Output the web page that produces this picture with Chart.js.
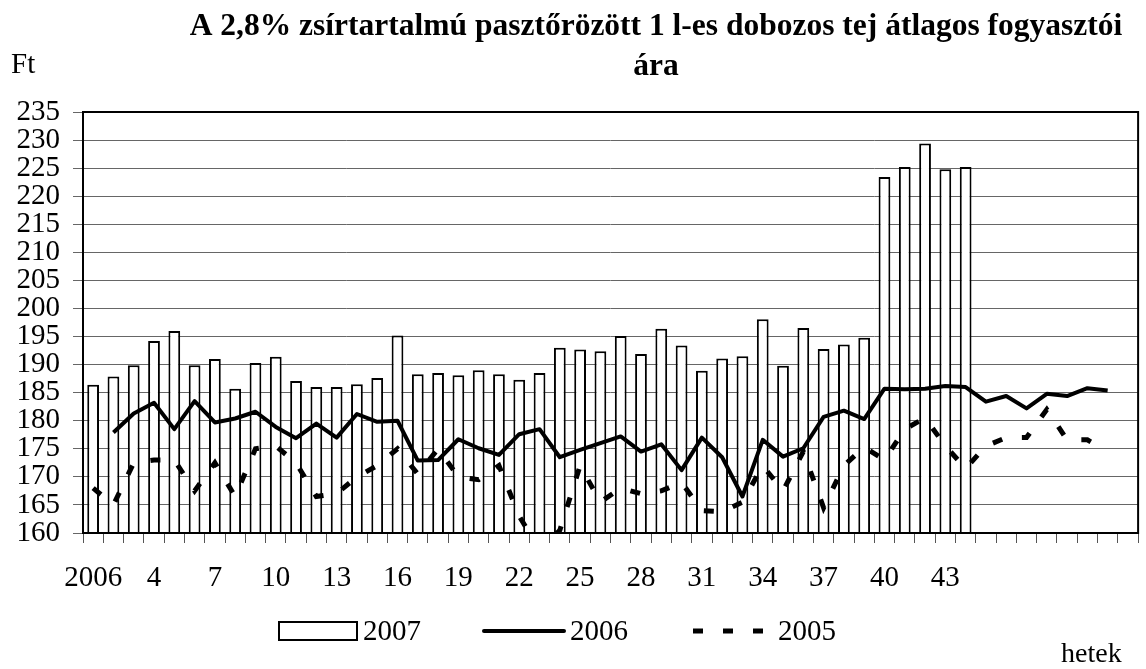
<!DOCTYPE html>
<html>
<head>
<meta charset="utf-8">
<script src="https://cdn.jsdelivr.net/npm/chart.js@4"></script>
<style>
    body { margin: 0; background: #fff; }
    #wrap { width: 1146px; height: 669px; position: relative; }
</style>
</head>
<body>
<div id="wrap"><canvas id="chart"></canvas></div>
<script>
// Adatok (hetek szerint)
const weekLabels = ['2006', '2', '3', '4', '5', '6', '7', '8', '9', '10',
    '11', '12', '13', '14', '15', '16', '17', '18', '19', '20',
    '21', '22', '23', '24', '25', '26', '27', '28', '29', '30',
    '31', '32', '33', '34', '35', '36', '37', '38', '39', '40',
    '41', '42', '43', '44', '', '', '', '', '', '', '', ''];

const price2007 = [186.4, 187.9, 189.9, 194.2, 196.0, 189.9, 191.0, 185.7, 190.3, 191.4,
    187.1, 186.0, 186.0, 186.5, 187.6, 195.2, 188.3, 188.5, 188.1, 189.0,
    188.3, 187.3, 188.5, 193.0, 192.7, 192.4, 195.1, 191.9, 196.4, 193.4,
    188.9, 191.1, 191.5, 198.1, 189.8, 196.5, 192.8, 193.6, 194.8, 223.4,
    225.2, 229.4, 224.8, 225.2, null, null, null, null, null, null, null, null];

const price2006 = [null, 177.9, 181.3, 183.2, 178.5, 183.5, 179.7, 180.4, 181.6, 178.9,
    176.9, 179.5, 177.0, 181.2, 179.8, 180.0, 172.9, 173.0, 176.7, 175.1,
    173.9, 177.6, 178.5, 173.5, 174.8, 176.0, 177.2, 174.5, 175.8, 171.2,
    177.0, 173.5, 166.5, 176.6, 173.6, 175.1, 180.7, 181.8, 180.3, 185.7,
    185.6, 185.7, 186.2, 186.0, 183.4, 184.4, 182.2, 184.8, 184.4, 185.8,
    185.4, null];

const price2005 = [168.0, 165.0, 172.5, 173.0, 173.0, 167.5, 172.5, 166.5, 175.0, 175.5,
    172.5, 166.5, 167.0, 170.0, 172.0, 175.0, 170.5, 175.0, 170.0, 169.5,
    172.0, 163.0, 157.0, 160.5, 172.0, 165.5, 168.0, 167.0, 167.5, 169.0,
    164.0, 163.8, 165.5, 172.0, 167.5, 174.5, 164.5, 172.0, 175.3, 173.0,
    178.5, 180.5, 175.5, 171.5, 175.5, 177.0, 177.0, 182.0, 176.6, 176.6,
    174.5, null];

const seriesNames = ['2007', '2006', '2005'];
const titleLines = ['A 2,8% zsírtartalmú pasztőrözött 1 l-es dobozos tej átlagos fogyasztói', 'ára'];

const serif = "'Liberation Serif', 'Times New Roman', serif";

// Cím, tengelyfeliratok, keret és jelmagyarázat
const decorPlugin = {
    id: 'decor',
    afterDraw(chart) {
        const ctx = chart.ctx;
        const area = chart.chartArea;
        ctx.save();

        // keret
        ctx.strokeStyle = '#000';
        ctx.lineWidth = 2;
        ctx.strokeRect(area.left, area.top, area.right - area.left, area.bottom - area.top);

        ctx.fillStyle = '#000';
        ctx.textBaseline = 'alphabetic';

        // cím
        ctx.font = 'bold 31.5px ' + serif;
        ctx.textAlign = 'center';
        ctx.fillText(titleLines[0], 656, 35);
        ctx.fillText(titleLines[1], 656, 75);

        // tengelycímek
        ctx.font = '29px ' + serif;
        ctx.textAlign = 'left';
        ctx.fillText('Ft', 11, 73);
        ctx.font = '28px ' + serif;
        ctx.fillText('hetek', 1061, 662);

        // jelmagyarázat
        const ly = 631;
        ctx.lineWidth = 2;
        ctx.fillStyle = '#fff';
        ctx.fillRect(279, ly - 9, 78, 18);
        ctx.strokeRect(279, ly - 9, 78, 18);

        ctx.lineWidth = 4;
        ctx.lineCap = 'round';
        ctx.beginPath();
        ctx.moveTo(484, ly);
        ctx.lineTo(564, ly);
        ctx.stroke();

        ctx.lineCap = 'butt';
        ctx.lineWidth = 5;
        ctx.setLineDash([10, 20]);
        ctx.beginPath();
        ctx.moveTo(693, ly);
        ctx.lineTo(765, ly);
        ctx.stroke();
        ctx.setLineDash([]);

        ctx.fillStyle = '#000';
        ctx.font = '29px ' + serif;
        ctx.textBaseline = 'middle';
        ctx.fillText(seriesNames[0], 363, ly + 1);
        ctx.fillText(seriesNames[1], 570, ly + 1);
        ctx.fillText(seriesNames[2], 778, ly + 1);
        ctx.restore();
    }
};

new Chart(document.getElementById('chart'), {
    type: 'bar',
    data: {
        labels: weekLabels,
        datasets: [{
            label: seriesNames[0],
            data: price2007,
            backgroundColor: '#fff',
            borderColor: '#000',
            borderWidth: 2,
            barPercentage: 0.58,
            categoryPercentage: 1,
            order: 3
        }, {
            type: 'line',
            label: seriesNames[1],
            data: price2006,
            borderColor: '#000',
            borderWidth: 4,
            pointRadius: 0,
            tension: 0,
            borderJoinStyle: 'round',
            order: 1
        }, {
            type: 'line',
            label: seriesNames[2],
            data: price2005,
            borderColor: '#000',
            borderWidth: 5,
            borderDash: [10, 20],
            pointRadius: 0,
            tension: 0,
            order: 2
        }]
    },
    options: {
        responsive: true,
        maintainAspectRatio: false,
        animation: false,
        layout: {
            padding: { top: 112, right: 4, left: 0, bottom: 0 }
        },
        plugins: {
            legend: { display: false },
            tooltip: { enabled: false }
        },
        scales: {
            x: {
                grid: {
                    offset: true,
                    drawOnChartArea: false,
                    tickLength: 10,
                    color: '#555'
                },
                border: { display: false },
                ticks: {
                    autoSkip: false,
                    maxRotation: 0,
                    padding: 18,
                    color: '#000',
                    font: { family: serif, size: 29 },
                    callback: function(value, index) {
                        return index % 3 === 0 ? this.getLabelForValue(value) : '';
                    }
                },
                afterFit: function(scale) {
                    scale.height = 136;
                }
            },
            y: {
                min: 160,
                max: 235,
                grid: {
                    color: '#666',
                    lineWidth: 1,
                    tickLength: 10
                },
                border: { display: false },
                ticks: {
                    stepSize: 5,
                    autoSkip: false,
                    padding: 13,
                    color: '#000',
                    font: { family: serif, size: 29 }
                },
                afterFit: function(scale) {
                    scale.width = 83;
                }
            }
        }
    },
    plugins: [decorPlugin]
});
</script>
</body>
</html>
